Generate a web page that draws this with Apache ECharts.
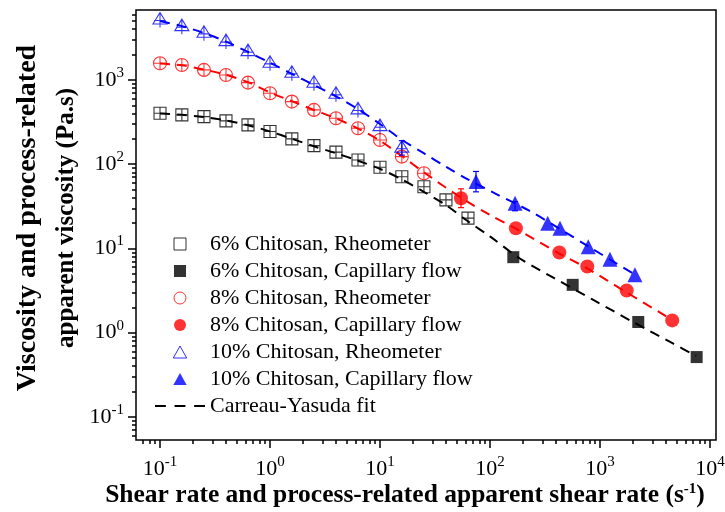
<!DOCTYPE html>
<html><head><meta charset="utf-8">
<script src="https://cdn.jsdelivr.net/npm/echarts@6/dist/echarts.min.js"></script>
<style>html,body{margin:0;padding:0;background:#fff}#c{width:725px;height:512px}</style>
</head><body><div id="c"></div>
<script>
// ---- data ----
const rheoShear6 = [0.1,0.158,0.251,0.398,0.631,1,1.58,2.51,3.98,6.31,10,15.8,25.1,39.8,63.1];
const rheoVisc6  = [403,385,367,327,293,244,200,166,139,112,92,71,54,37.7,22.9];
const rheoShear8 = [0.1,0.158,0.251,0.398,0.631,1,1.58,2.51,3.98,6.31,10,15.8,25.1];
const rheoVisc8  = [1578,1506,1315,1146,929,695,553,441,351,267,194,123,78];
const rheoShear10 = [0.1,0.158,0.251,0.398,0.631,1,1.58,2.51,3.98,6.31,10,15.8];
const rheoVisc10  = [5150,4290,3580,2850,2166,1578,1200,914,676,441,279,155];

const capShear6 = [163,565,2230,7570];
const capVisc6  = [7.88,3.70,1.34,0.514];
const capShear8 = [54.5,172,427,767,1750,4540];
const capVisc8  = [39.5,17.4,8.94,6.10,3.17,1.40];
const capShear10 = [74.6,169,335,433,783,1233,2080];
const capVisc10  = [62.2,34.5,19.9,17.4,10.5,7.46,4.87];

// error bars visible in the picture (shear, low, high)
const errShear8 = [54.5];
const errLow8   = [30.5];
const errHigh8  = [51];
const errShear10 = [74.6, 169, 15.8];
const errLow10   = [47, 28, 128];
const errHigh10  = [82, 36, 190];

const fitShear6 = [0.1,0.158,0.251,0.398,0.631,1,1.58,2.51,3.98,6.31,10,15.8,25,40,63,100,187,377,870,2000,4650,7500];
const fitVisc6  = [400,385,362,330,290,245,200,163,135,110,88,66,47,32.5,21,13.9,7.6,4.5,2.45,1.34,0.74,0.53];
const fitShear8 = [0.1,0.158,0.251,0.398,0.631,1,1.58,2.51,3.98,6.31,10,15.8,25.1,54.5,100,172,427,767,1750,4540];
const fitVisc8  = [1570,1490,1330,1150,940,710,560,440,350,265,190,125,80,40,25,17.2,8.7,5.8,3.0,1.42];
const fitShear10 = [0.1,0.158,0.251,0.398,0.631,1,1.58,2.51,3.98,6.31,10,15.8,25,40,63,111,223,433,783,1420,2080];
const fitVisc10  = [5000,4350,3600,2850,2150,1600,1180,870,640,450,300,195,135,93,66,45,28.5,17,10.6,6.6,4.9];

const seriesNames = ['6% Chitosan, Rheometer','6% Chitosan, Capillary flow','8% Chitosan, Rheometer','8% Chitosan, Capillary flow','10% Chitosan, Rheometer','10% Chitosan, Capillary flow','Carreau-Yasuda fit'];
const xExponents = [-1,0,1,2,3,4];
const yExponents = [-1,0,1,2,3];
const X_RANGE = [0.0605, 11350];
const Y_RANGE = [0.0533, 6760];
const xTitle = 'Shear rate and process-related apparent shear rate (s';
const yTitleLine1 = 'Viscosity and process-related';
const yTitleLine2 = 'apparent viscosity (Pa.s)';

// ---- helpers ----
const zip = (a, b) => a.map((v, i) => [v, b[i]]);
const zip3 = (a, b, c) => a.map((v, i) => [v, b[i], c[i]]);
const lg = Math.log10;
function minorTicks(lo, hi) {
  const out = [];
  for (let d = Math.floor(lo); d <= Math.ceil(hi); d++)
    for (let m = 2; m <= 9; m++) { const v = d + lg(m); if (v >= lo && v <= hi) out.push(v); }
  return out;
}
const FONT = 'Liberation Serif';
const BLACK = '#000000', RED = '#ff0000', BLUE = '#0000ff';
const supRich = {
  b: {fontSize: 22, fontFamily: FONT, color: BLACK, lineHeight: 22},
  s: {fontSize: 15, fontFamily: FONT, color: BLACK, lineHeight: 15, padding: [0,0,14,0]}
};
const supFmt = v => '{b|10}{s|' + Math.round(v) + '}';

const SQ_X = 'path://M0,0H10V10H0Z M5,0V10 M0,5H10';
const CI_X = 'path://M10,5A5,5,0,1,1,0,5A5,5,0,1,1,10,5Z M5,0V10 M0,5H10';
const TR_X = 'path://M6,0L12,10H0Z M6,1V13 M1,7H11';
const SQ = 'path://M0,0H10V10H0Z';
const CI = 'path://M10,5A5,5,0,1,1,0,5A5,5,0,1,1,10,5Z';
const TR = 'path://M5,0L10,9H0Z';
const DASH_ICON = 'path://M0,0H10V2H0Z M18,0H28V2H18Z M36,0H46V2H36Z';

const lx = [lg(X_RANGE[0]), lg(X_RANGE[1])];
const ly = [lg(Y_RANGE[0]), lg(Y_RANGE[1])];
const tickLine = {color: BLACK, width: 1.5};
const noLine = {show: false, onZero: false};
const HOLLOW = 'rgba(0,0,0,0)';

function hollow(name, sh, vi, symbol, size, color) {
  return {type: 'scatter', name, data: zip(sh, vi), symbol, symbolSize: size, z: 4,
    itemStyle: {color: HOLLOW, borderColor: color, borderWidth: 1.1}};
}
function solid(name, sh, vi, symbol, size, color) {
  return {type: 'scatter', name, data: zip(sh, vi), symbol, symbolSize: size, z: 5,
    itemStyle: {color, borderWidth: 0}};
}
function fit(sh, vi, color) {
  return {type: 'line', name: seriesNames[6], data: zip(sh, vi), smooth: 0.3, symbol: 'none', showSymbol: false, z: 3,
    lineStyle: {color, width: 2, type: [10, 7]}, itemStyle: {color}};
}
function errorBars(sh, lo, hi, color) {
  return {type: 'custom', data: zip3(sh, lo, hi), z: 4, silent: true,
    renderItem: function (params, api) {
      const a = api.coord([api.value(0), api.value(1)]);
      const b = api.coord([api.value(0), api.value(2)]);
      const st = {stroke: color, lineWidth: 1.2};
      return {type: 'group', children: [
        {type: 'line', shape: {x1: a[0], y1: a[1], x2: b[0], y2: b[1]}, style: st},
        {type: 'line', shape: {x1: a[0] - 3, y1: a[1], x2: a[0] + 3, y2: a[1]}, style: st},
        {type: 'line', shape: {x1: b[0] - 3, y1: b[1], x2: b[0] + 3, y2: b[1]}, style: st}
      ]};
    }};
}

const option = {
  backgroundColor: '#fff',
  animation: false,
  grid: {left: 136, right: 9, top: 10, bottom: 72, show: true, borderColor: BLACK, borderWidth: 1.5,
    backgroundColor: HOLLOW, containLabel: false, outerBoundsMode: 'none'},
  legend: {
    orient: 'vertical', left: 150, top: 228, itemWidth: 50, itemHeight: 12, itemGap: 5, symbolKeepAspect: true,
    textStyle: {fontFamily: FONT, fontSize: 22, color: BLACK, lineHeight: 22},
    data: [
      {name: seriesNames[0], icon: SQ, itemStyle: {color: HOLLOW, borderColor: BLACK, borderWidth: 1}},
      {name: seriesNames[1], icon: SQ, itemStyle: {color: BLACK, borderWidth: 0}},
      {name: seriesNames[2], icon: CI, itemStyle: {color: HOLLOW, borderColor: RED, borderWidth: 1}},
      {name: seriesNames[3], icon: CI, itemStyle: {color: RED, borderWidth: 0}},
      {name: seriesNames[4], icon: TR, itemStyle: {color: HOLLOW, borderColor: BLUE, borderWidth: 1}},
      {name: seriesNames[5], icon: TR, itemStyle: {color: BLUE, borderWidth: 0}},
      {name: seriesNames[6], icon: DASH_ICON, itemStyle: {color: BLACK, borderWidth: 0}}
    ]
  },
  xAxis: [
    {type: 'log', logBase: 10, min: X_RANGE[0], max: X_RANGE[1], axisLine: noLine, axisTick: {show: false}, axisLabel: {show: false}, splitLine: {show: false}},
    {type: 'value', min: lx[0], max: lx[1], position: 'bottom', axisLine: noLine, splitLine: {show: false},
      axisTick: {show: true, customValues: xExponents, length: 8, lineStyle: tickLine},
      axisLabel: {customValues: xExponents, margin: 18, formatter: supFmt, rich: supRich},
      name: '{n|' + xTitle + '}{s|-1}{n|)}', nameLocation: 'middle', nameGap: 43, nameMoveOverlap: false,
      nameTextStyle: {padding: [0, 42, 0, 0], rich: {
        n: {fontSize: 25.5, fontWeight: 'bold', fontFamily: FONT, color: BLACK, lineHeight: 25},
        s: {fontSize: 15, fontWeight: 'bold', fontFamily: FONT, color: BLACK, lineHeight: 15, padding: [0,0,12,0]}}}},
    {type: 'value', min: lx[0], max: lx[1], position: 'bottom', axisLine: noLine, splitLine: {show: false},
      axisTick: {show: true, customValues: minorTicks(lx[0], lx[1]), length: 4, lineStyle: tickLine},
      axisLabel: {show: false}}
  ],
  yAxis: [
    {type: 'log', logBase: 10, min: Y_RANGE[0], max: Y_RANGE[1], axisLine: noLine, axisTick: {show: false}, axisLabel: {show: false}, splitLine: {show: false}},
    {type: 'value', min: ly[0], max: ly[1], position: 'left', axisLine: noLine, splitLine: {show: false},
      axisTick: {show: true, customValues: yExponents, length: 8, lineStyle: tickLine},
      axisLabel: {customValues: yExponents, margin: 12, formatter: supFmt, rich: supRich},
      name: '{a|' + yTitleLine1 + '}\n{b|' + yTitleLine2 + '}', nameLocation: 'middle', nameGap: 50, nameMoveOverlap: false,
      nameTextStyle: {padding: [0, 0, 0, 14], rich: {
        a: {fontSize: 28, fontWeight: 'bold', fontFamily: FONT, color: BLACK, lineHeight: 39},
        b: {fontSize: 25, fontWeight: 'bold', fontFamily: FONT, color: BLACK, lineHeight: 39}}}},
    {type: 'value', min: ly[0], max: ly[1], position: 'left', axisLine: noLine, splitLine: {show: false},
      axisTick: {show: true, customValues: minorTicks(ly[0], ly[1]), length: 4, lineStyle: tickLine},
      axisLabel: {show: false}}
  ],
  series: [
    fit(fitShear6, fitVisc6, BLACK),
    fit(fitShear8, fitVisc8, RED),
    fit(fitShear10, fitVisc10, BLUE),
    errorBars(errShear8, errLow8, errHigh8, RED),
    errorBars(errShear10, errLow10, errHigh10, BLUE),
    hollow(seriesNames[0], rheoShear6, rheoVisc6, SQ_X, 12, BLACK),
    solid(seriesNames[1], capShear6, capVisc6, 'rect', 12, BLACK),
    hollow(seriesNames[2], rheoShear8, rheoVisc8, CI_X, 13, RED),
    solid(seriesNames[3], capShear8, capVisc8, 'circle', 14, RED),
    hollow(seriesNames[4], rheoShear10, rheoVisc10, TR_X, [14, 15], BLUE),
    solid(seriesNames[5], capShear10, capVisc10, 'triangle', 15, BLUE)
  ]
};
const chart = echarts.init(document.getElementById('c'), null, {renderer: 'canvas'});
chart.setOption(option);
</script>
</body></html>
